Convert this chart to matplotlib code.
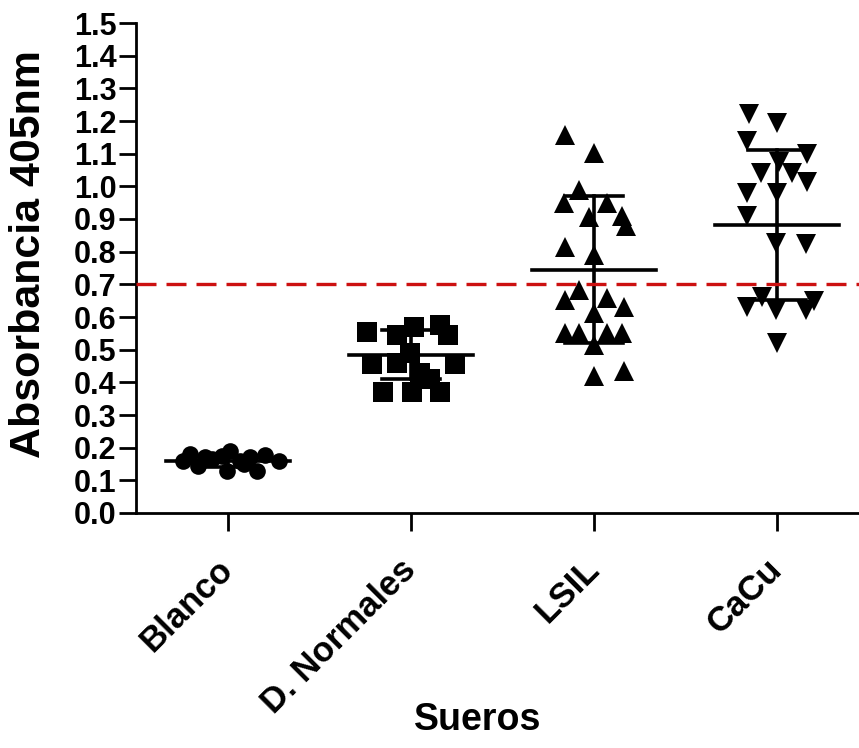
import matplotlib
matplotlib.use('Agg')
import matplotlib.pyplot as plt
from matplotlib.transforms import ScaledTranslation

plt.rcParams['font.family'] = ['Liberation Sans', 'DejaVu Sans']
plt.rcParams['font.weight'] = 'bold'

# groups on the x axis
categories = ['Blanco', 'D. Normales', 'LSIL', 'CaCu']

# absorbance values, with the sideways spread of each point
blanco_vals = [0.16, 0.18, 0.145, 0.17, 0.165, 0.175, 0.13, 0.19, 0.16, 0.15, 0.17, 0.13, 0.178, 0.16]
blanco_jit = [-0.246, -0.208, -0.164, -0.126, -0.087, -0.033, -0.005, 0.011, 0.066, 0.087, 0.12, 0.158, 0.202, 0.279]

normales_vals = [0.555, 0.545, 0.57, 0.575, 0.545, 0.455, 0.46, 0.43, 0.49, 0.455, 0.37, 0.37, 0.37, 0.41]
normales_jit = [-0.24, -0.077, 0.016, 0.158, 0.202, -0.213, -0.077, 0.049, -0.005, 0.24, -0.153, 0.005, 0.158, 0.104]

lsil_vals = [1.157, 1.103, 0.99, 0.95, 0.95, 0.91, 0.88, 0.906, 0.814, 0.79, 0.683,
             0.652, 0.658, 0.63, 0.612, 0.55, 0.55, 0.55, 0.55, 0.514, 0.42, 0.435]
lsil_jit = [-0.158, 0.0, -0.082, -0.164, 0.071, 0.153, 0.175, -0.027, -0.158, 0.0, -0.082,
            -0.158, 0.071, 0.164, 0.0, -0.158, -0.082, 0.071, 0.153, 0.0, 0.0, 0.164]

cacu_vals = [1.221, 1.195, 1.139, 1.099, 1.074, 1.04, 1.04, 1.013, 0.98, 0.98, 0.91,
             0.826, 0.823, 0.63, 0.66, 0.62, 0.62, 0.65, 0.52]
cacu_jit = [-0.153, 0.0, -0.164, 0.164, 0.011, -0.087, 0.082, 0.164, -0.164, 0.0, -0.164,
            -0.005, 0.158, -0.164, -0.082, -0.005, 0.158, 0.2, 0.0]

# mean and SD lines as drawn in the picture
means = [0.158, 0.484, 0.744, 0.882]
sds = [0.018, 0.075, 0.225, 0.23]

cutoff = 0.7

yticks = [i / 10 for i in range(16)]

fig = plt.figure(figsize=(8.59, 7.48), dpi=100)
ax = fig.add_axes([136 / 859, 235 / 748, 723 / 859, 490 / 748])

groups = [(blanco_vals, blanco_jit, 'o', 12),
          (normales_vals, normales_jit, 's', 15),
          (lsil_vals, lsil_jit, '^', 14),
          (cacu_vals, cacu_jit, 'v', 14)]

for i, (vals, jit, mk, ms) in enumerate(groups):
    xs = [i + j for j in jit]
    ax.plot(xs, vals, linestyle='none', marker=mk, markersize=ms,
            color='black', markeredgewidth=0, zorder=3)

# mean line and SD whiskers
for i in range(len(categories)):
    m = means[i]
    s = sds[i]
    ax.plot([i - 0.34, i + 0.34], [m, m], color='black', lw=2.6, zorder=4)
    ax.plot([i, i], [m - s, m + s], color='black', lw=2.6, zorder=4)
    ax.plot([i - 0.16, i + 0.16], [m + s, m + s], color='black', lw=2.6, zorder=4)
    ax.plot([i - 0.16, i + 0.16], [m - s, m - s], color='black', lw=2.6, zorder=4)

# cut-off line
ax.axhline(cutoff, color='#cc1111', lw=2.4, linestyle=(0, (6, 3)), zorder=5)

ax.set_xlim(-0.503, 3.448)
ax.set_ylim(0, 1.5)
ax.set_yticks(yticks)
ax.set_yticklabels(['%.1f' % t for t in yticks], fontsize=22, fontweight='bold')
ax.set_xticks(range(len(categories)))
ax.set_xticklabels(categories, rotation=45, ha='right', va='center',
                   rotation_mode='anchor', fontsize=25, fontweight='bold')
shift = ScaledTranslation(6 / 100, 0, fig.dpi_scale_trans)
for lab in ax.get_xticklabels():
    lab.set_transform(lab.get_transform() + shift)

ax.spines['top'].set_visible(False)
ax.spines['right'].set_visible(False)
ax.spines['left'].set_linewidth(2)
ax.spines['bottom'].set_linewidth(2)
ax.tick_params(axis='y', length=12, width=2, pad=2)
ax.tick_params(axis='x', length=13, width=2, pad=24)

ax.set_ylabel('Absorbancia 405nm', fontsize=31, fontweight='bold')
ax.yaxis.set_label_coords(-0.12, 0.529)
ax.set_xlabel('Sueros', fontsize=27, fontweight='bold')
ax.xaxis.set_label_coords(0.473, -0.386)

fig.savefig('out.png', dpi=100)
